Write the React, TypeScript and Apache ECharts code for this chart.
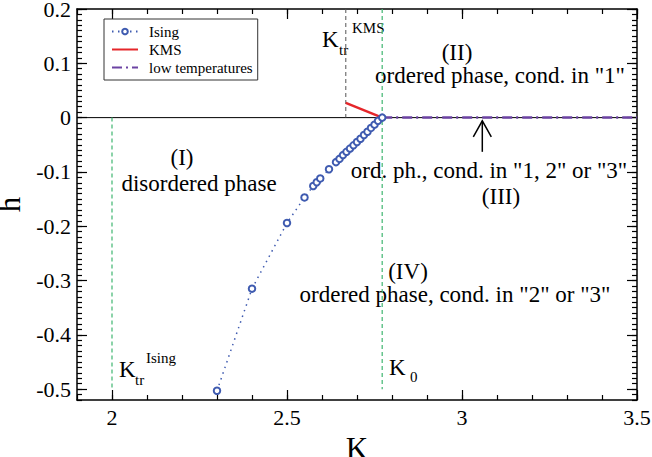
import { useEffect, useRef } from "react";
import * as echarts from "echarts";

const FONT = '"Liberation Serif", "Times New Roman", serif';

const X_MIN = 1.9;
const X_MAX = 3.5;
const Y_MIN = -0.52;
const Y_MAX = 0.2;
const X_MAJOR = [2, 2.5, 3, 3.5];
const Y_MAJOR = [-0.5, -0.4, -0.3, -0.2, -0.1, 0, 0.1, 0.2];

const ISING_K = [2.3, 2.4, 2.5, 2.55, 2.575, 2.585, 2.595, 2.62, 2.64, 2.65, 2.66, 2.67, 2.68, 2.69, 2.7, 2.71, 2.72, 2.73, 2.74, 2.75, 2.76, 2.772];
const ISING_H = [-0.503, -0.315, -0.194, -0.147, -0.126, -0.119, -0.112, -0.095, -0.082, -0.076, -0.069, -0.063, -0.057, -0.051, -0.045, -0.039, -0.032, -0.026, -0.019, -0.013, -0.006, 0];

const KMS_K = [2.668, 2.772];
const KMS_H = [0.027, 0];

const LOWT_K = [2.772, 3.5];
const LOWT_H = [0, 0];

const K_TR_ISING = 2;
const K_TR_KMS = 2.668;
const K_0 = 2.772;

const ARROW_K = 3.058;
const ARROW_H_TAIL = -0.063;
const ARROW_H_TIP = -0.006;

const BLUE = "#3f5bb0";
const RED = "#e5262a";
const PURPLE = "#6c43a3";
const GREEN = "#4dbb7a";
const GRAY = "#555555";

const zip = (a: number[], b: number[]) => a.map((v, i) => [v, b[i]]);

function App() {
  const ref = useRef<HTMLDivElement>(null);
  useEffect(() => {
    if (!ref.current) return;
    const chart = echarts.init(ref.current, null, { renderer: "svg" });
    const axisLineStyle = { color: "#000", width: 1.5 };
    const tickStyle = { color: "#000", width: 1.2 };
    const labelStyle = { fontFamily: FONT, fontSize: 22, lineHeight: 18, color: "#000" };

    const majorX = (pos: string, label: boolean) => ({
      type: "value",
      min: X_MIN,
      max: X_MAX,
      position: pos,
      axisLine: { show: true, onZero: false, lineStyle: axisLineStyle },
      axisTick: { show: true, inside: true, length: 10, customValues: X_MAJOR, lineStyle: tickStyle },
      axisLabel: { show: label, customValues: X_MAJOR, margin: 8, ...labelStyle, formatter: (v: number) => String(v) },
      splitLine: { show: false },
      ...(label
        ? { name: "K", nameLocation: "middle", nameGap: 22, nameTextStyle: { fontFamily: FONT, fontSize: 31, lineHeight: 24, color: "#000" } }
        : {}),
    });
    const minorX = (pos: string) => ({
      type: "value",
      min: X_MIN,
      max: X_MAX,
      interval: 0.1,
      position: pos,
      axisLine: { show: false, onZero: false },
      axisTick: { show: true, inside: true, length: 5, lineStyle: tickStyle },
      axisLabel: { show: false },
      splitLine: { show: false },
    });
    const majorY = (pos: string, label: boolean) => ({
      type: "value",
      min: Y_MIN,
      max: Y_MAX,
      position: pos,
      axisLine: { show: true, onZero: false, lineStyle: axisLineStyle },
      axisTick: { show: true, inside: true, length: 10, customValues: Y_MAJOR, lineStyle: tickStyle },
      axisLabel: { show: label, customValues: Y_MAJOR, margin: 6, ...labelStyle, formatter: (v: number) => String(v) },
      splitLine: { show: false },
      ...(label
        ? { name: "h", nameLocation: "middle", nameGap: 45, nameTextStyle: { fontFamily: FONT, fontSize: 31, lineHeight: 24, color: "#000" } }
        : {}),
    });
    const minorY = (pos: string) => ({
      type: "value",
      min: Y_MIN,
      max: Y_MAX,
      interval: 0.01,
      position: pos,
      axisLine: { show: false, onZero: false },
      axisTick: { show: true, inside: true, length: 5, lineStyle: tickStyle },
      axisLabel: { show: false },
      splitLine: { show: false },
    });

    const txt = (text: string, x: number, y: number, size: number, align = "center") => ({
      type: "text",
      x,
      y,
      silent: true,
      style: { text, font: `${size}px ${FONT}`, fill: "#000", align, verticalAlign: "middle" },
    });

    const option: any = {
      animation: false,
      backgroundColor: "#fff",
      grid: { left: 77, right: 15, top: 9, bottom: 57, containLabel: false, outerBoundsMode: "none" },
      xAxis: [majorX("bottom", true), minorX("bottom"), majorX("top", false), minorX("top")],
      yAxis: [majorY("left", true), minorY("left"), majorY("right", false), minorY("right")],
      legend: {
        data: [
          { name: "Ising" },
          { name: "KMS", itemStyle: { opacity: 0 } },
          { name: "low temperatures", itemStyle: { opacity: 0 } },
        ],
        orient: "vertical",
        left: 104,
        top: 19,
        align: "left",
        padding: [5, 5, 5, 7],
        itemGap: 3,
        itemWidth: 26,
        itemHeight: 7,
        borderColor: "#333",
        borderWidth: 1,
        backgroundColor: "#fff",
        textStyle: { fontFamily: FONT, fontSize: 15, lineHeight: 15, color: "#000", padding: [0, 0, 0, 6] },
      },
      series: [
        {
          name: "h0",
          type: "line",
          data: [[X_MIN, 0], [X_MAX, 0]],
          showSymbol: false,
          silent: true,
          lineStyle: { color: "#000", width: 1 },
        },
        {
          name: "KtrIsingLine",
          type: "line",
          data: [[K_TR_ISING, 0], [K_TR_ISING, -0.5]],
          showSymbol: false,
          silent: true,
          lineStyle: { color: GREEN, width: 1.3, type: [4, 3] },
        },
        {
          name: "K0Line",
          type: "line",
          data: [[K_0, Y_MAX], [K_0, -0.5]],
          showSymbol: false,
          silent: true,
          lineStyle: { color: GREEN, width: 1.3, type: [4, 3] },
        },
        {
          name: "KtrKMSLine",
          type: "line",
          data: [[K_TR_KMS, Y_MAX], [K_TR_KMS, 0]],
          showSymbol: false,
          silent: true,
          lineStyle: { color: GRAY, width: 1, type: [4, 3] },
        },
        {
          name: "KMS",
          type: "line",
          data: zip(KMS_K, KMS_H),
          showSymbol: false,
          symbol: "none",
          itemStyle: { color: RED },
          lineStyle: { color: RED, width: 2.5 },
        },
        {
          name: "low temperatures",
          type: "line",
          data: zip(LOWT_K, LOWT_H),
          showSymbol: false,
          symbol: "none",
          itemStyle: { color: PURPLE },
          lineStyle: { color: PURPLE, width: 2.5, type: [10, 4, 2, 4] },
        },
        {
          name: "Ising",
          type: "line",
          data: zip(ISING_K, ISING_H),
          symbol: "emptyCircle",
          symbolSize: 6.5,
          showSymbol: true,
          itemStyle: { color: BLUE, borderColor: BLUE, borderWidth: 1.2 },
          lineStyle: { color: BLUE, width: 1.5, type: [1.5, 4.5] },
        },
        {
          name: "arrow",
          type: "custom",
          silent: true,
          data: [[ARROW_K, ARROW_H_TAIL, ARROW_H_TIP]],
          renderItem: (_p: any, api: any) => {
            const tail = api.coord([api.value(0), api.value(1)]);
            const tip = api.coord([api.value(0), api.value(2)]);
            return {
              type: "group",
              children: [
                { type: "line", shape: { x1: tail[0], y1: tail[1], x2: tip[0], y2: tip[1] }, style: { stroke: "#000", lineWidth: 1.5 } },
                {
                  type: "polyline",
                  shape: { points: [[tip[0] - 9, tip[1] + 16], [tip[0], tip[1]], [tip[0] + 9, tip[1] + 16]] },
                  style: { stroke: "#000", lineWidth: 1.5, fill: null },
                },
              ],
            };
          },
        },
      ],
      graphic: [
        txt("(I)", 182, 157, 23),
        txt("disordered phase", 199, 183, 23),
        txt("(II)", 457, 52, 23),
        txt('ordered phase, cond. in "1"', 500, 75, 23),
        txt('ord. ph., cond. in "1, 2" or "3"', 489, 170, 23),
        txt("(III)", 501, 196, 23),
        txt("(IV)", 408, 271, 23),
        txt('ordered phase, cond. in "2" or "3"', 455, 294, 23),
        txt("K", 322, 39, 23, "left"),
        txt("tr", 339, 50, 15, "left"),
        txt("KMS", 352, 28, 15, "left"),
        txt("K", 119, 369, 23, "left"),
        txt("tr", 135, 380, 15, "left"),
        txt("Ising", 146, 358, 15, "left"),
        txt("K", 389, 367, 23, "left"),
        txt("0", 410, 377, 15, "left"),
      ],
    };
    chart.setOption(option);
    return () => chart.dispose();
  }, []);
  return <div ref={ref} style={{ width: 652, height: 457, position: "absolute", left: 0, top: 0 }} />;
}

export default App;
